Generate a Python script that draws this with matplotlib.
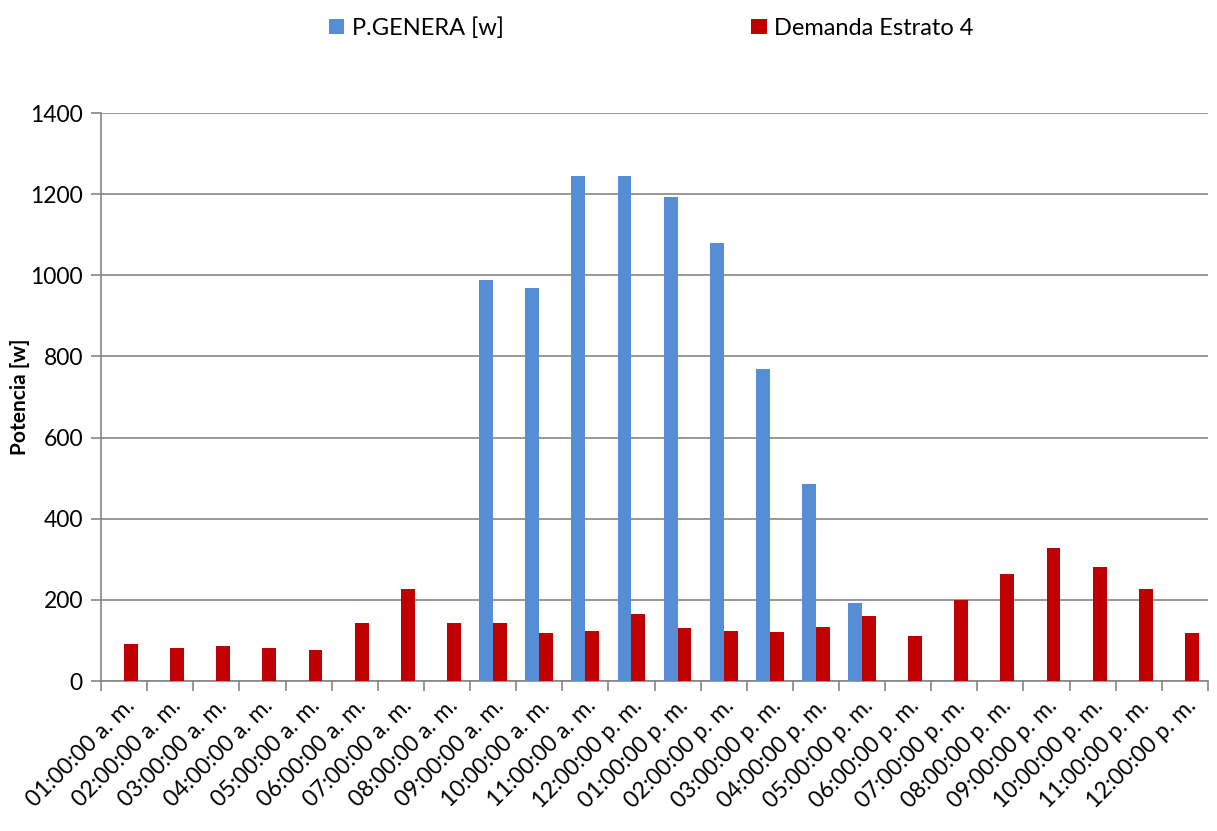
import numpy as np
import matplotlib.pyplot as plt

plt.rcParams['font.family'] = ['Lato', 'DejaVu Sans']

horas = ['01:00:00 a. m.', '02:00:00 a. m.', '03:00:00 a. m.', '04:00:00 a. m.',
         '05:00:00 a. m.', '06:00:00 a. m.', '07:00:00 a. m.', '08:00:00 a. m.',
         '09:00:00 a. m.', '10:00:00 a. m.', '11:00:00 a. m.', '12:00:00 p. m.',
         '01:00:00 p. m.', '02:00:00 p. m.', '03:00:00 p. m.', '04:00:00 p. m.',
         '05:00:00 p. m.', '06:00:00 p. m.', '07:00:00 p. m.', '08:00:00 p. m.',
         '09:00:00 p. m.', '10:00:00 p. m.', '11:00:00 p. m.', '12:00:00 p. m.']
p_genera = [0, 0, 0, 0, 0, 0, 0, 0, 988, 969, 1245, 1245,
            1193, 1080, 769, 486, 192, 0, 0, 0, 0, 0, 0, 0]
demanda = [91, 81, 86, 81, 76, 143, 227, 143, 143, 118, 123, 165,
           131, 123, 121, 133, 160, 111, 200, 264, 328, 281, 227, 118]

fig = plt.figure(figsize=(12.17, 8.31), dpi=100)
ax = fig.add_axes([0.083, 0.1805, 0.9096, 0.6835])

x = np.arange(len(horas))
w = 0.3
ax.bar(x - w/2, p_genera, w, color='#558ED5', label='P.GENERA [w]', zorder=3)
ax.bar(x + w/2, demanda, w, color='#C00000', label='Demanda Estrato 4', zorder=3)

ax.set_xlim(-0.5, len(horas) - 0.5)
ax.set_ylim(0, 1400)
ax.set_yticks(np.arange(0, 1401, 200))
ax.yaxis.grid(True, color='#868686', lw=1.2, zorder=0)

ax.set_xticks(x)
ax.set_xticklabels(horas, rotation=45, ha='right', rotation_mode='anchor', fontsize=16.5)
ax.set_xticks(np.arange(-0.5, len(horas), 1), minor=True)
ax.tick_params(axis='x', which='major', length=0, pad=10)
ax.tick_params(axis='x', which='minor', length=7, color='#868686', width=1.2)
ax.tick_params(axis='y', length=7, color='#868686', width=1.2, labelsize=16.5, pad=6)

for s in ['top', 'right']:
    ax.spines[s].set_visible(False)
for s in ['left', 'bottom']:
    ax.spines[s].set_color('#868686')
    ax.spines[s].set_linewidth(1.2)

ax.set_ylabel('Potencia [w]', fontsize=15, fontweight='bold', labelpad=0)

fig.legend(loc='upper center', bbox_to_anchor=(0.535, 1.005), ncol=2, frameon=False,
           fontsize=17, handlelength=0.65, handleheight=0.65, handletextpad=0.3,
           columnspacing=10.5)

fig.savefig('out.png', dpi=100)
